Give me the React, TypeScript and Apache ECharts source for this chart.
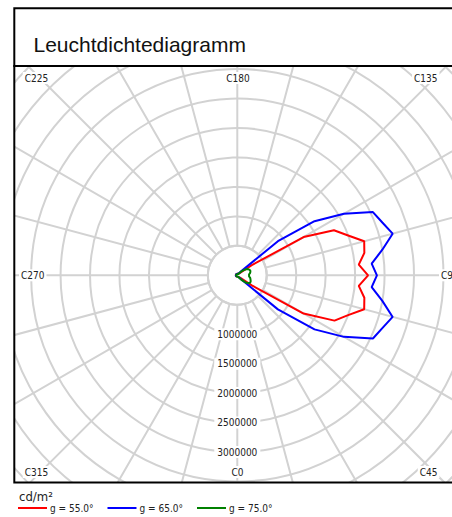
import React, { useEffect, useRef } from "react";
import * as echarts from "echarts";

// C-plane angles (degrees), 5° resolution
const cPlanes = [
  0, 5, 10, 15, 20, 25, 30, 35, 40, 45, 50, 55,
  60, 65, 70, 75, 80, 85, 90, 95, 100, 105, 110, 115,
  120, 125, 130, 135, 140, 145, 150, 155, 160, 165, 170, 175,
  180, 185, 190, 195, 200, 205, 210, 215, 220, 225, 230, 235,
  240, 245, 250, 255, 260, 265, 270, 275, 280, 285, 290, 295,
  300, 305, 310, 315, 320, 325, 330, 335, 340, 345, 350, 355,
];

// luminance in cd/m² at gamma = 55°
const luminanceG55 = [
  30000, 30000, 30000, 30000, 30000, 30000, 30000, 35000, 40000, 50000, 60000, 300000,
  1300000, 1820000, 1990000, 2230000, 2190000, 2070000, 2220000, 2070000, 2190000, 2230000, 1990000, 1810000,
  1300000, 300000, 60000, 50000, 40000, 35000, 30000, 30000, 30000, 30000, 30000, 30000,
  25000, 25000, 25000, 25000, 25000, 25000, 25000, 25000, 25000, 25000, 25000, 25000,
  25000, 25000, 25000, 25000, 25000, 25000, 25000, 25000, 25000, 25000, 25000, 25000,
  25000, 25000, 25000, 25000, 25000, 25000, 25000, 25000, 25000, 25000, 25000, 30000,
];

// luminance in cd/m² at gamma = 65°
const luminanceG65 = [
  30000, 30000, 30000, 30000, 30000, 30000, 30000, 35000, 50000, 120000, 900000, 1600000,
  2090000, 2540000, 2620000, 2730000, 2500000, 2290000, 2370000, 2290000, 2500000, 2730000, 2620000, 2540000,
  2090000, 1600000, 900000, 120000, 50000, 35000, 30000, 30000, 30000, 30000, 30000, 30000,
  25000, 25000, 25000, 25000, 25000, 25000, 25000, 25000, 25000, 25000, 25000, 25000,
  25000, 25000, 25000, 25000, 25000, 25000, 25000, 25000, 25000, 25000, 25000, 25000,
  25000, 25000, 25000, 25000, 25000, 25000, 25000, 25000, 25000, 25000, 25000, 30000,
];

// luminance in cd/m² at gamma = 75°
const luminanceG75 = [
  20000, 20000, 20000, 20000, 20000, 20000, 20000, 40000, 80000, 130000, 200000, 230000,
  250000, 250000, 240000, 230000, 220000, 200000, 200000, 200000, 220000, 230000, 235000, 225000,
  210000, 180000, 130000, 80000, 40000, 20000, 20000, 20000, 20000, 20000, 20000, 20000,
  20000, 20000, 20000, 20000, 20000, 20000, 20000, 20000, 20000, 20000, 20000, 20000,
  20000, 20000, 20000, 20000, 20000, 20000, 20000, 20000, 20000, 20000, 20000, 20000,
  20000, 20000, 20000, 20000, 20000, 20000, 20000, 20000, 20000, 20000, 20000, 20000,
];

const seriesNames = ["g = 55.0°", "g = 65.0°", "g = 75.0°"];
const seriesColors = ["#ff0000", "#0000ff", "#008000"];
const radiusLabels = [1000000, 1500000, 2000000, 2500000, 3000000];
const planeLabels = ["C0", "C45", "C90", "C135", "C180", "C225", "C270", "C315"];

const LABEL_FONT = "'DejaVu Sans Condensed', 'DejaVu Sans', sans-serif";
const TITLE_FONT = "'Liberation Sans Narrow', 'Liberation Sans', Arial, sans-serif";
const GRID = "#d2d2d2";

// frame and polar layout (px)
const BOX = { left: 14.3, top: 66, right: 460.3, bottom: 482.5, titleTop: 8.3 };
const CENTER = [237.3, 275.3];
const RADIUS_MAX = 5500000;
const RADIUS_PX = 324;
const STEP = 500000;

// anchor for each C-plane label along the frame
const planeLabelLayout: Record<string, { x: number; y: number; align: string }> = {
  C0: { x: 237.5, y: 472, align: "center" },
  C45: { x: 439.5, y: 472, align: "right" },
  C90: { x: 439, y: 275.3, align: "left" },
  C135: { x: 439.5, y: 78, align: "right" },
  C180: { x: 238, y: 78, align: "center" },
  C225: { x: 22.7, y: 78, align: "left" },
  C270: { x: 19, y: 275.3, align: "left" },
  C315: { x: 22.7, y: 472, align: "left" },
};

function buildOption() {
  const tables = [luminanceG55, luminanceG65, luminanceG75];
  const series = tables.map((vals, i) => ({
    type: "line",
    name: seriesNames[i],
    coordinateSystem: "polar",
    symbol: "none",
    smooth: false,
    z: 3,
    color: seriesColors[i],
    lineStyle: { width: 2, color: seriesColors[i] },
    data: [...cPlanes.map((c, k) => [vals[k], c]), [vals[0], 360]],
  }));

  const holeR = (STEP * RADIUS_PX) / RADIUS_MAX;

  const graphic: any[] = [
    {
      type: "circle",
      z: 2,
      shape: { cx: CENTER[0], cy: CENTER[1], r: holeR },
      style: { fill: "#fff", stroke: GRID, lineWidth: 2 },
    },
    // blank out the grid beyond the frame
    { type: "rect", z: 10, shape: { x: 0, y: 0, width: BOX.left, height: 517 }, style: { fill: "#fff" } },
    { type: "rect", z: 10, shape: { x: 0, y: 0, width: 452, height: BOX.top }, style: { fill: "#fff" } },
    { type: "rect", z: 10, shape: { x: 0, y: BOX.bottom, width: 452, height: 517 - BOX.bottom }, style: { fill: "#fff" } },
    {
      type: "rect",
      z: 11,
      shape: { x: BOX.left, y: BOX.titleTop, width: BOX.right - BOX.left, height: BOX.top - BOX.titleTop },
      style: { fill: "#fff", stroke: "#000", lineWidth: 2 },
    },
    {
      type: "rect",
      z: 11,
      shape: { x: BOX.left, y: BOX.top, width: BOX.right - BOX.left, height: BOX.bottom - BOX.top },
      style: { fill: "none", stroke: "#000", lineWidth: 2 },
    },
    {
      type: "text",
      z: 12,
      x: 33.5,
      y: 44.5,
      style: {
        text: "Leuchtdichtediagramm",
        fill: "#111",
        fontSize: 21,
        fontFamily: TITLE_FONT,
        align: "left",
        verticalAlign: "middle",
      },
    },
    {
      type: "text",
      z: 12,
      x: 19,
      y: 496,
      style: {
        text: "cd/m²",
        fill: "#222",
        fontSize: 13,
        fontFamily: LABEL_FONT,
        align: "left",
        verticalAlign: "middle",
      },
    },
    ...planeLabels.map((t) => {
      const p = planeLabelLayout[t];
      return {
        type: "text",
        z: 5,
        x: p.x,
        y: p.y,
        style: {
          text: t,
          fill: "#222",
          fontSize: 10,
          fontFamily: LABEL_FONT,
          align: p.align,
          verticalAlign: "middle",
          backgroundColor: "#fff",
          padding: [1, 2],
        },
      };
    }),
  ];

  return {
    animation: false,
    polar: { center: CENTER, radius: [0, RADIUS_PX] },
    angleAxis: {
      type: "value",
      min: 0,
      max: 360,
      interval: 15,
      startAngle: 270,
      clockwise: false,
      z: 1,
      axisLine: { show: false },
      axisTick: { show: false },
      axisLabel: { show: false },
      splitLine: { show: true, lineStyle: { color: GRID, width: 2 } },
    },
    radiusAxis: {
      type: "value",
      min: 0,
      max: RADIUS_MAX,
      interval: STEP,
      z: 2,
      axisLine: { show: false },
      axisTick: { show: false },
      splitLine: { show: true, lineStyle: { color: GRID, width: 2 } },
      axisLabel: {
        show: true,
        customValues: radiusLabels,
        formatter: (v: number) => String(v),
        margin: 0,
        align: "center",
        verticalAlign: "middle",
        color: "#222",
        fontSize: 10,
        fontFamily: LABEL_FONT,
        backgroundColor: "#fff",
        padding: [1, 3],
      },
    },
    legend: {
      data: seriesNames.map((name) => ({ name, icon: "rect" })),
      left: 18,
      top: 503,
      padding: 0,
      itemWidth: 29,
      itemHeight: 2,
      itemGap: 14,
      z: 20,
      textStyle: { fontSize: 10, fontFamily: LABEL_FONT, color: "#222", padding: [0, 0, 0, -2] },
    },
    graphic,
    series,
  };
}

export default function App() {
  const ref = useRef<HTMLDivElement>(null);
  useEffect(() => {
    if (!ref.current) return;
    const chart = echarts.init(ref.current, undefined, { renderer: "svg" });
    chart.setOption(buildOption() as any);
    return () => chart.dispose();
  }, []);
  return (
    <div
      ref={ref}
      style={{ position: "absolute", left: 0, top: 0, width: 452, height: 517, background: "#fff" }}
    />
  );
}
